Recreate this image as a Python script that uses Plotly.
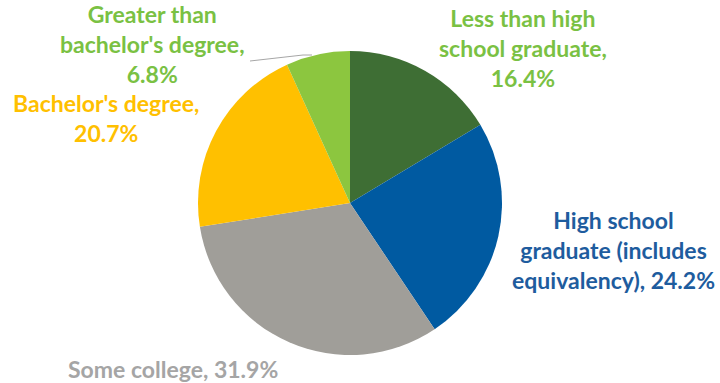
import plotly.graph_objects as go

categories = [
    "Less than high school graduate",
    "High school graduate (includes equivalency)",
    "Some college",
    "Bachelor's degree",
    "Greater than bachelor's degree",
]
shares = [16.4, 24.2, 31.9, 20.7, 6.8]
slice_colors = ["#3E6E34", "#005AA1", "#A09E99", "#FFC000", "#8CC63F"]
label_colors = ["#7AC143", "#1E5C9E", "#A5A5A5", "#FFC000", "#7AC143"]

# label text split over lines, one entry per category
label_lines = [
    ["Less than high", "school graduate,"],
    ["High school", "graduate (includes", "equivalency), {v}"],
    ["Some college, {v}"],
    ["Bachelor's degree,"],
    ["Greater than", "bachelor's degree,"],
]
label_pos = [(523, 48), (613, 250), (173, 369), (106, 118), (152, 44)]

W, H = 720, 383

fig = go.Figure(
    go.Pie(
        labels=categories,
        values=shares,
        sort=False,
        direction="clockwise",
        rotation=0,
        marker=dict(colors=slice_colors, line=dict(width=0)),
        textinfo="none",
        hoverinfo="label+percent",
        domain=dict(x=[198 / W, 502 / W], y=[(H - 355) / H, (H - 51) / H]),
        showlegend=False,
    )
)

for i, cat in enumerate(categories):
    lines = list(label_lines[i])
    val = f"{shares[i]:.1f}%"
    if "{v}" in lines[-1]:
        lines[-1] = lines[-1].format(v=val)
    else:
        lines.append(val)
    x, y = label_pos[i]
    fig.add_annotation(
        x=x / W, y=1 - y / H, xref="paper", yref="paper",
        text="<br>".join(lines), showarrow=False,
        xanchor="center", yanchor="middle", align="center",
        font=dict(family="Lato", size=23, color=label_colors[i], weight="bold"),
    )

# leader line for the small slice
fig.add_shape(
    type="path", xref="paper", yref="paper",
    path=f"M {250 / W} {1 - 61 / H} L {303 / W} {1 - 55 / H} L {312 / W} {1 - 55 / H}",
    line=dict(color="#A6A6A6", width=1),
)

fig.update_layout(
    width=W, height=H,
    margin=dict(l=0, r=0, t=0, b=0),
    paper_bgcolor="white", plot_bgcolor="white",
)

fig.write_html("out.html")
